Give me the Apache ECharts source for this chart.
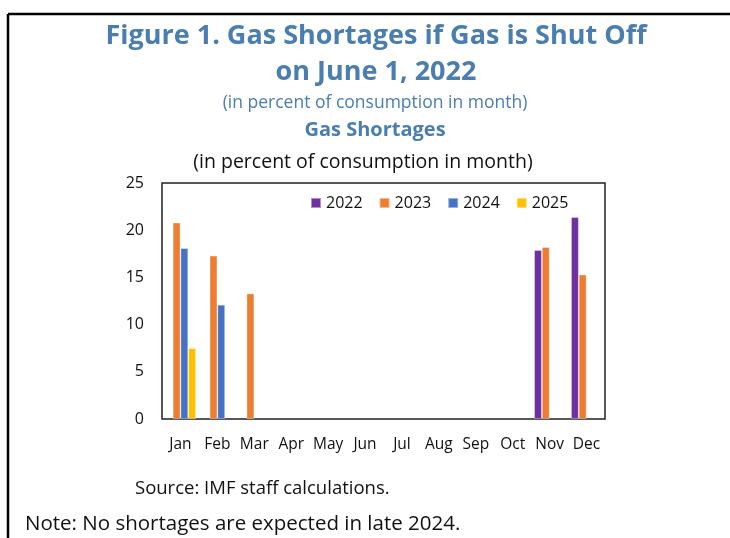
<!DOCTYPE html>
<html><head><meta charset="utf-8">
<script src="https://cdn.jsdelivr.net/npm/echarts@6/dist/echarts.min.js"></script>
<style>html,body{margin:0;padding:0;background:#fff}#c{width:730px;height:538px}</style>
</head><body><div id="c"></div>
<script>
var months = ['Jan','Feb','Mar','Apr','May','Jun','Jul','Aug','Sep','Oct','Nov','Dec'];
var s2022 = [null,null,null,null,null,null,null,null,null,null,17.9,21.4];
var s2023 = [20.8,17.3,13.3,null,null,null,null,null,null,null,18.2,15.3];
var s2024 = [18.1,12.1,null,null,null,null,null,null,null,null,null,null];
var s2025 = [7.5,null,null,null,null,null,null,null,null,null,null,null];
var seriesNames = ['2022','2023','2024','2025'];
var yTicks = [0,5,10,15,20,25];

var FONT = '"Open Sans", "Noto Sans", sans-serif';
var BLUE = '#4a7eb0';
var colors = ['#7030A0','#ED7D31','#4472C4','#FFC000'];
var chart = echarts.init(document.getElementById('c'), null, {renderer:'canvas'});
function txt(x,y,t,size,color,weight,align){
  return {type:'text', x:x, y:y, style:{text:t, font:(weight||'normal')+' '+size+'px '+FONT, fill:color, textAlign:align||'center', textVerticalAlign:'middle'}};
}
var data = [s2022,s2023,s2024,s2025];
chart.setOption({
  animation:false,
  textStyle:{fontFamily:FONT},
  color:colors,
  grid:{left:162, right:125, top:183, bottom:119, show:true, borderColor:'#222', borderWidth:1.5, backgroundColor:'transparent'},
  legend:{left:305, top:190, itemWidth:10, itemHeight:10, itemGap:16, icon:'rect',
    textStyle:{fontSize:16, color:'#111', fontFamily:FONT}, data:seriesNames},
  xAxis:{type:'category', data:months, axisTick:{show:false}, axisLine:{show:false},
    axisLabel:{fontSize:15.5, color:'#111', margin:18, interval:0}},
  yAxis:{type:'value', min:yTicks[0], max:yTicks[yTicks.length-1], interval:5, splitLine:{show:false},
    axisLine:{show:false}, axisTick:{show:false}, axisLabel:{fontSize:16, color:'#111', margin:18}},
  series: seriesNames.map(function(n,i){
    return {name:n, type:'bar', data:data[i], barGap:'0%', barCategoryGap:'16%',
      itemStyle:{color:colors[i], borderColor:'rgba(255,255,255,0.45)', borderWidth:0.8}};
  }),
  graphic:[
    {type:'line', shape:{x1:8, y1:14, x2:730, y2:14}, style:{stroke:'#000', lineWidth:2.5}},
    {type:'line', shape:{x1:8, y1:14, x2:8, y2:538}, style:{stroke:'#000', lineWidth:2.5}},
    txt(376,36,'Figure 1. Gas Shortages if Gas is Shut Off',27,BLUE,'bold'),
    txt(376,72,'on June 1, 2022',27,BLUE,'bold'),
    txt(375,103,'(in percent of consumption in month)',17.5,BLUE),
    txt(375,130,'Gas Shortages',20,BLUE,'bold'),
    txt(363,162,'(in percent of consumption in month)',19.5,'#111'),
    txt(135,489,'Source: IMF staff calculations.',18.5,'#111','normal','left'),
    txt(25,524,'Note: No shortages are expected in late 2024.',20.5,'#111','normal','left')
  ]
});
</script></body></html>
